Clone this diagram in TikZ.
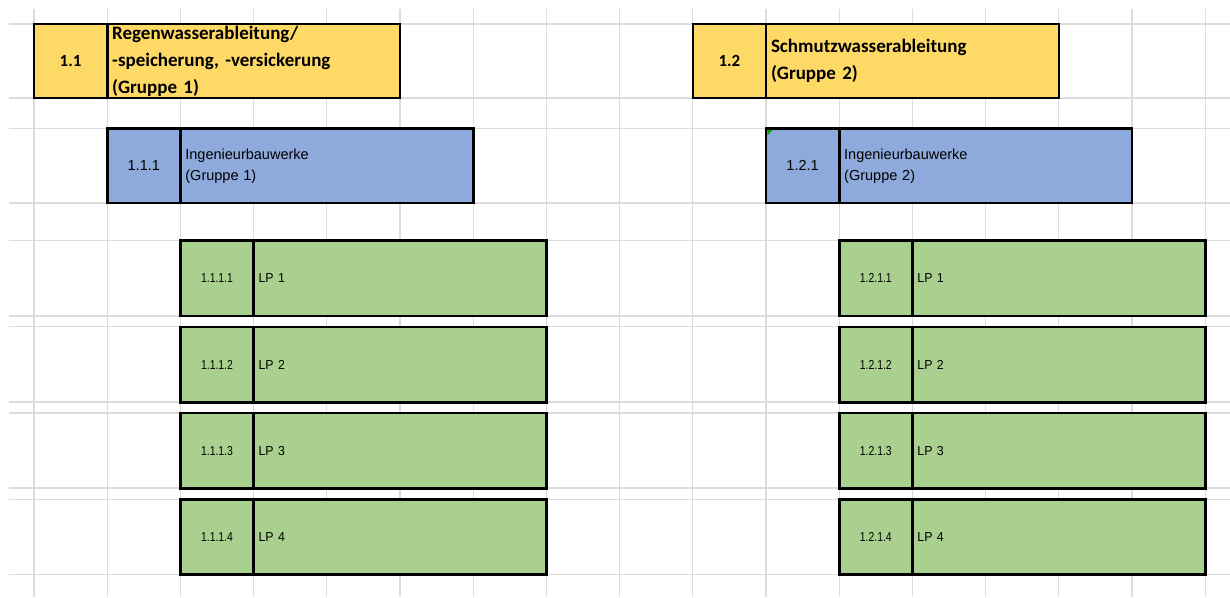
\documentclass[tikz,border=0pt]{standalone}
\usepackage{fontspec}
\setmainfont{Liberation Sans}
\newfontfamily\hdrfont{Carlito}
\newfontfamily\numfont[FakeStretch=0.8]{Liberation Sans}
\newfontfamily\lpfont[FakeStretch=0.95]{Liberation Sans}
\definecolor{ygold}{HTML}{FFD966}
\definecolor{bblue}{HTML}{8EA9DB}
\definecolor{ggreen}{HTML}{A9D08E}
\definecolor{gridc}{HTML}{DCDCDC}
\definecolor{markg}{HTML}{00A000}
\tikzset{
  gridline/.style={draw=gridc, line width=1.1pt},
  cellbox/.style={draw=black, line width=2.6pt, inner sep=0pt, outer sep=0pt, anchor=north west},
  numcell/.style={cellbox, minimum width=73.2pt, align=center},
  txtcell/.style={cellbox, text width=282.8pt, inner xsep=5pt, align=left},
  ynum/.style={numcell, fill=ygold, minimum height=74pt, font=\hdrfont\bfseries\fontsize{17}{20}\selectfont},
  ytxt/.style={txtcell, fill=ygold, minimum height=74pt, font=\hdrfont\bfseries\fontsize{19}{27}\selectfont},
  bnum/.style={numcell, fill=bblue, minimum height=74.5pt, font=\fontsize{14.5}{17}\selectfont},
  btxt/.style={txtcell, fill=bblue, minimum height=74.5pt, font=\fontsize{14.5}{21}\selectfont},
  gnum/.style={numcell, fill=ggreen, minimum height=75.4pt, font=\numfont\fontsize{13}{15}\selectfont},
  gtxt/.style={txtcell, fill=ggreen, minimum height=75.4pt, font=\lpfont\fontsize{13}{15}\selectfont}
}
\begin{document}
\begin{tikzpicture}[x=1pt,y=-1pt]
\useasboundingbox (0,0) rectangle (1230,597);
\fill[white] (0,0) rectangle (1230,597);
% spreadsheet grid
\foreach \k in {0,...,16} \draw[gridline] ({34+73.2*\k},9) -- ({34+73.2*\k},597);
\foreach \yy in {24,98,128.5,203,240.5,316,326.8,402,413,488,499.2,574.4} \draw[gridline] (9,\yy) -- (1230,\yy);

% left branch
\node[ynum] (n11) at (34,24) {1.1};
\node[ytxt] (t11) at (107.2,24) {Regenwasserableitung/\\-speicherung, -versickerung\\(Gruppe 1)};
\node[bnum] (n111) at (107.2,128.5) {1.1.1};
\node[btxt] (t111) at (180.4,128.5) {Ingenieurbauwerke\\(Gruppe 1)};
\node[gnum] (n1111) at (180.4,240.5) {1.1.1.1};
\node[gtxt] (t1111) at (253.6,240.5) {LP 1};
\node[gnum] (n1112) at (180.4,326.8) {1.1.1.2};
\node[gtxt] (t1112) at (253.6,326.8) {LP 2};
\node[gnum] (n1113) at (180.4,413) {1.1.1.3};
\node[gtxt] (t1113) at (253.6,413) {LP 3};
\node[gnum] (n1114) at (180.4,499.2) {1.1.1.4};
\node[gtxt] (t1114) at (253.6,499.2) {LP 4};

% right branch
\node[ynum] (n12) at (692.8,24) {1.2};
\node[ytxt] (t12) at (766,24) {Schmutzwasserableitung\\(Gruppe 2)};
\node[bnum] (n121) at (766,128.5) {1.2.1};
\node[btxt] (t121) at (839.2,128.5) {Ingenieurbauwerke\\(Gruppe 2)};
\node[gnum] (n1211) at (839.2,240.5) {1.2.1.1};
\node[gtxt] (t1211) at (912.4,240.5) {LP 1};
\node[gnum] (n1212) at (839.2,326.8) {1.2.1.2};
\node[gtxt] (t1212) at (912.4,326.8) {LP 2};
\node[gnum] (n1213) at (839.2,413) {1.2.1.3};
\node[gtxt] (t1213) at (912.4,413) {LP 3};
\node[gnum] (n1214) at (839.2,499.2) {1.2.1.4};
\node[gtxt] (t1214) at (912.4,499.2) {LP 4};

% cell indicator mark
\fill[markg] (767.4,129.9) -- (772.8,129.9) -- (767.4,135.3) -- cycle;
\end{tikzpicture}
\end{document}
